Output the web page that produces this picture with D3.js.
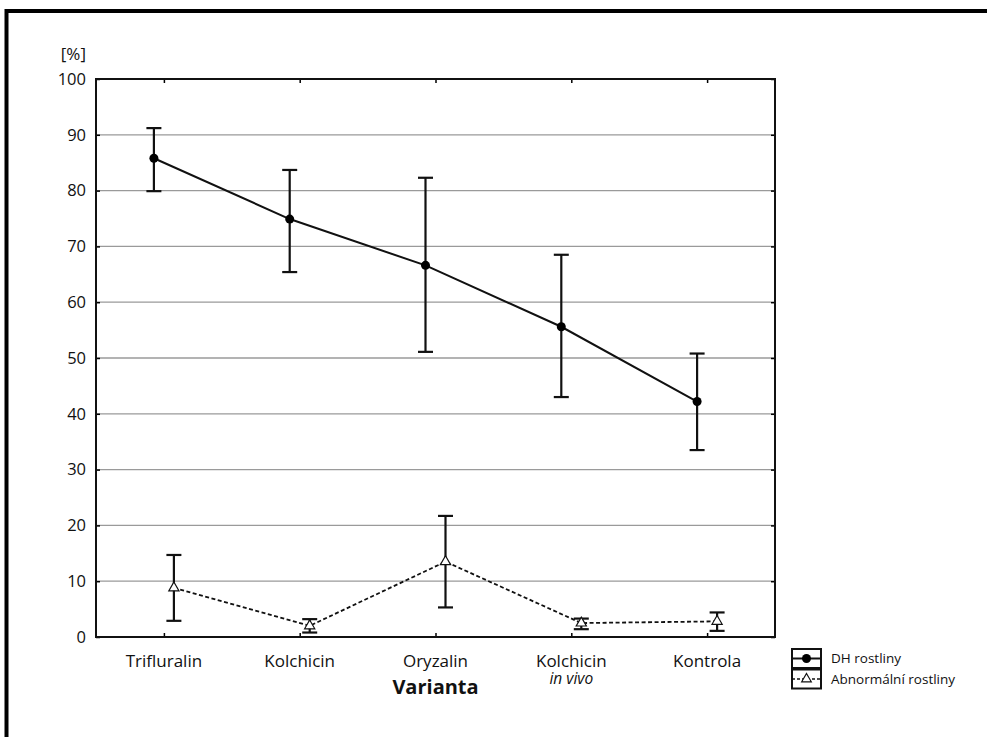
<!DOCTYPE html>
<html>
<head>
<meta charset="utf-8">
<script src="https://cdn.jsdelivr.net/npm/d3@7"></script>
<style>
  body { margin: 0; background: #fff; }
  svg { display: block; font-family: "Open Sans", sans-serif; }
</style>
</head>
<body>
<svg id="chart"></svg>
<script>
// categories and values
var categories = ["Trifluralin", "Kolchicin", "Oryzalin", "Kolchicin|in vivo", "Kontrola"];
var yTicks = [0, 10, 20, 30, 40, 50, 60, 70, 80, 90, 100];

var dhMean = [85.8, 74.9, 66.6, 55.6, 42.2];
var dhLow = [79.9, 65.4, 51.1, 43.0, 33.5];
var dhHigh = [91.2, 83.7, 82.3, 68.5, 50.8];

var abMean = [8.8, 2.0, 13.5, 2.5, 2.8];
var abLow = [2.9, 0.8, 5.3, 1.4, 1.1];
var abHigh = [14.7, 3.2, 21.7, 3.3, 4.4];

var seriesNames = ["DH rostliny", "Abnormální rostliny"];

var w = 987, h = 737;
var pLeft = 96, pRight = 775, pTop = 79, pBottom = 637;
var font = "'Open Sans', sans-serif";

var svg = d3.select("#chart").attr("width", w).attr("height", h);

// outer frame (only top and left visible)
svg.append("rect")
  .attr("x", 6.5).attr("y", 11)
  .attr("width", w + 20).attr("height", h + 20)
  .attr("fill", "none").attr("stroke", "#000").attr("stroke-width", 4);

var x = d3.scalePoint().domain(categories).range([pLeft, pRight]).padding(0.5);
var y = d3.scaleLinear().domain([0, 100]).range([pBottom, pTop]);

// gridlines
svg.append("g").selectAll("line")
  .data(yTicks.filter(function(d){ return d > 0 && d < 100; }))
  .enter().append("line")
  .attr("x1", pLeft).attr("x2", pRight)
  .attr("y1", function(d){ return y(d); }).attr("y2", function(d){ return y(d); })
  .attr("stroke", "#9a9a9a").attr("stroke-width", 1.3);

// axes
var yAxis = svg.append("g").attr("transform", "translate(" + pLeft + ",0)")
  .call(d3.axisLeft(y).tickValues(yTicks).tickSize(-4).tickPadding(10));
yAxis.attr("font-family", font);
yAxis.select(".domain").remove();
yAxis.selectAll("text").attr("font-size", 16.5).attr("fill", "#111");
yAxis.selectAll("line").attr("stroke-width", 1.5);

var yAxisR = svg.append("g").attr("transform", "translate(" + pRight + ",0)")
  .call(d3.axisRight(y).tickValues(yTicks).tickSize(-4).tickFormat(""));
yAxisR.select(".domain").remove();
yAxisR.selectAll("line").attr("stroke-width", 1.5);

var xAxis = svg.append("g").attr("transform", "translate(0," + pBottom + ")")
  .call(d3.axisBottom(x).tickSize(-4).tickFormat(""));
xAxis.select(".domain").remove();
xAxis.selectAll("line").attr("stroke-width", 1.5);

var xAxisT = svg.append("g").attr("transform", "translate(0," + pTop + ")")
  .call(d3.axisTop(x).tickSize(-4).tickFormat(""));
xAxisT.select(".domain").remove();
xAxisT.selectAll("line").attr("stroke-width", 1.5);

// plot border
svg.append("rect")
  .attr("x", pLeft).attr("y", pTop)
  .attr("width", pRight - pLeft).attr("height", pBottom - pTop)
  .attr("fill", "none").attr("stroke", "#111").attr("stroke-width", 2);

// category labels
var catLabels = svg.append("g").selectAll("text")
  .data(categories).enter().append("text")
  .attr("text-anchor", "middle")
  .attr("x", function(d){ return x(d); })
  .attr("y", 667)
  .attr("font-size", 17).attr("fill", "#111");
catLabels.each(function(d){
  var parts = d.split("|");
  var t = d3.select(this);
  t.append("tspan").text(parts[0]);
  if (parts[1]) {
    t.append("tspan").attr("x", x(d)).attr("dy", 17)
      .attr("font-style", "italic").attr("font-size", 15.5).text(parts[1]);
  }
});

svg.append("text").attr("x", x("Oryzalin")).attr("y", 694)
  .attr("text-anchor", "middle").attr("font-size", 20).attr("font-weight", "bold")
  .attr("fill", "#111").text("Varianta");

svg.append("text").attr("x", 86).attr("y", 60)
  .attr("text-anchor", "end").attr("font-size", 17).attr("fill", "#111").text("[%]");

function drawSeries(mean, low, high, offset, dashed, marker) {
  var g = svg.append("g");
  var pts = categories.map(function(c, i){
    return { x: x(c) + offset, m: mean[i], lo: low[i], hi: high[i] };
  });
  var line = d3.line().x(function(d){ return d.x; }).y(function(d){ return y(d.m); });
  g.append("path").datum(pts).attr("d", line)
    .attr("fill", "none").attr("stroke", "#111")
    .attr("stroke-width", dashed ? 1.8 : 2)
    .attr("stroke-dasharray", dashed ? "4,2.5" : null);

  var eb = g.selectAll(".eb").data(pts).enter().append("g")
    .attr("stroke", "#111").attr("stroke-width", 2.2);
  eb.append("line").attr("x1", function(d){ return d.x; }).attr("x2", function(d){ return d.x; })
    .attr("y1", function(d){ return y(d.lo); }).attr("y2", function(d){ return y(d.hi); });
  eb.append("line").attr("x1", function(d){ return d.x - 7.5; }).attr("x2", function(d){ return d.x + 7.5; })
    .attr("y1", function(d){ return y(d.lo); }).attr("y2", function(d){ return y(d.lo); });
  eb.append("line").attr("x1", function(d){ return d.x - 7.5; }).attr("x2", function(d){ return d.x + 7.5; })
    .attr("y1", function(d){ return y(d.hi); }).attr("y2", function(d){ return y(d.hi); });

  if (marker === "circle") {
    g.selectAll(".mk").data(pts).enter().append("circle")
      .attr("cx", function(d){ return d.x; }).attr("cy", function(d){ return y(d.m); })
      .attr("r", 4.5).attr("fill", "#000");
  } else {
    var tri = d3.symbol().type(d3.symbolTriangle).size(45);
    g.selectAll(".mk").data(pts).enter().append("path")
      .attr("d", tri)
      .attr("transform", function(d){ return "translate(" + d.x + "," + y(d.m) + ")"; })
      .attr("fill", "#fff").attr("stroke", "#111").attr("stroke-width", 1.2);
  }
}

drawSeries(dhMean, dhLow, dhHigh, -10, false, "circle");
drawSeries(abMean, abLow, abHigh, 10, true, "triangle");

// legend
var lg = svg.append("g");
seriesNames.forEach(function(name, i){
  var yy = 649 + i * 20.5;
  lg.append("rect").attr("x", 792).attr("y", yy).attr("width", 29).attr("height", 19)
    .attr("fill", "#fff").attr("stroke", "#111").attr("stroke-width", 2);
  lg.append("line").attr("x1", 792).attr("x2", 821).attr("y1", yy + 9.5).attr("y2", yy + 9.5)
    .attr("stroke", "#111").attr("stroke-width", i === 0 ? 2 : 1.5)
    .attr("stroke-dasharray", i === 0 ? null : "3,2");
  if (i === 0) {
    lg.append("circle").attr("cx", 806.5).attr("cy", yy + 9.5).attr("r", 4.5).attr("fill", "#000");
  } else {
    lg.append("path").attr("d", d3.symbol().type(d3.symbolTriangle).size(40))
      .attr("transform", "translate(806.5," + (yy + 9.5) + ")")
      .attr("fill", "#fff").attr("stroke", "#111").attr("stroke-width", 1.2);
  }
  lg.append("text").attr("x", 831).attr("y", yy + 14)
    .attr("font-size", 13.5).attr("fill", "#111").text(name);
});
</script>
</body>
</html>
